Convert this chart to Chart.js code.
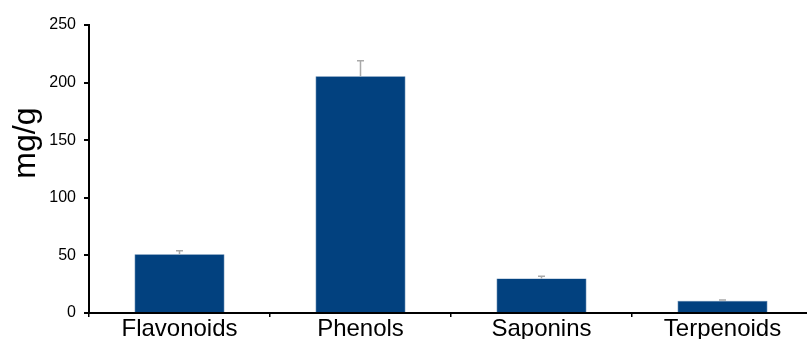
<!DOCTYPE html>
<html>
<head>
<meta charset="utf-8">
<script src="https://cdn.jsdelivr.net/npm/chart.js@4.4.1/dist/chart.umd.min.js"></script>
<style>
  html, body { margin: 0; padding: 0; background: #fff; overflow: hidden; }
  #wrap { width: 807px; height: 339px; overflow: hidden; position: relative; }
  canvas { display: block; }
</style>
</head>
<body>
<div id="wrap"><canvas id="c" width="830" height="339"></canvas></div>
<script>
// Compound content per class (mg/g) with standard deviation
const categories = ['Flavonoids', 'Phenols', 'Saponins', 'Terpenoids'];
const contents   = [51, 205.5, 30, 10.6];
const deviations = [3, 13.5, 1.8, 0.6];
const yTicks     = [0, 50, 100, 150, 200, 250];
const yAxisLabel = 'mg/g';

const FONT = '"Liberation Sans", Arial, Helvetica, sans-serif';

// Upper half of the error bars, drawn after the bars
const errorBars = {
  id: 'errorBars',
  afterDatasetsDraw(chart) {
    const { ctx, scales: { x, y } } = chart;
    ctx.save();
    ctx.strokeStyle = '#a9a9a9';
    ctx.lineWidth = 1.5;
    contents.forEach((v, i) => {
      const cx = x.getPixelForValue(i);
      const yTop = y.getPixelForValue(v + deviations[i]);
      const yBar = y.getPixelForValue(v);
      ctx.beginPath();
      ctx.moveTo(cx, yBar);
      ctx.lineTo(cx, yTop);
      ctx.moveTo(cx - 3.5, yTop);
      ctx.lineTo(cx + 3.5, yTop);
      ctx.stroke();
    });
    ctx.restore();
  }
};

// Rotated y-axis caption
const axisCaption = {
  id: 'axisCaption',
  afterDraw(chart) {
    const { ctx, chartArea } = chart;
    ctx.save();
    ctx.translate(26, chartArea.top + (chartArea.bottom - chartArea.top) * 0.41);
    ctx.rotate(-Math.PI / 2);
    ctx.font = '32px ' + FONT;
    ctx.fillStyle = '#000';
    ctx.textAlign = 'center';
    ctx.textBaseline = 'middle';
    ctx.fillText(yAxisLabel, 0, 0);
    ctx.restore();
  }
};

new Chart(document.getElementById('c'), {
  type: 'bar',
  data: {
    labels: categories,
    datasets: [{
      data: contents,
      backgroundColor: '#02417f',
      borderColor: '#3a6a9c',
      borderWidth: 0.6,
      categoryPercentage: 1,
      barPercentage: 0.497
    }]
  },
  options: {
    responsive: false,
    animation: false,
    layout: { padding: { left: 0, right: 17, top: 25, bottom: 0 } },
    plugins: { legend: { display: false }, tooltip: { enabled: false } },
    scales: {
      x: {
        offset: true,
        grid: {
          offset: true,
          drawOnChartArea: false,
          drawTicks: true,
          tickLength: 4,
          color: '#000',
          lineWidth: 1.5
        },
        border: { display: true, color: '#000', width: 2 },
        ticks: {
          color: '#000',
          padding: -2,
          font: { family: FONT, size: 24 },
          maxRotation: 0,
          autoSkip: false
        },
        afterFit(scale) { scale.height = 26; }
      },
      y: {
        min: 0,
        max: 250,
        afterBuildTicks(scale) { scale.ticks = yTicks.map(v => ({ value: v })); },
        grid: {
          drawOnChartArea: false,
          drawTicks: true,
          tickLength: 5,
          color: '#000',
          lineWidth: 2
        },
        border: { display: true, color: '#000', width: 2 },
        ticks: {
          color: '#000',
          padding: 8,
          font: { family: FONT, size: 16 }
        },
        afterFit(scale) { scale.width = 89; }
      }
    }
  },
  plugins: [errorBars, axisCaption]
});
</script>
</body>
</html>
